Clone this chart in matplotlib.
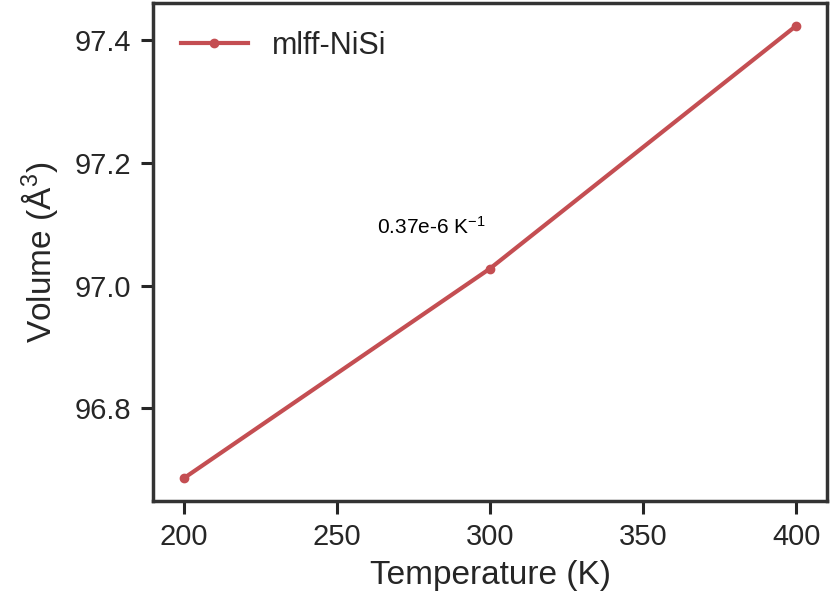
import matplotlib
matplotlib.use('Agg')
import matplotlib.pyplot as plt

temperature = [200, 300, 400]
volume = [96.686, 97.028, 97.424]
series_label = 'mlff-NiSi'
note = '0.37e-6 K$^{-1}$'

plt.rcParams['font.family'] = ['Liberation Sans', 'DejaVu Sans']
plt.rcParams['mathtext.fontset'] = 'custom'
plt.rcParams['mathtext.rm'] = 'Liberation Sans'
plt.rcParams['mathtext.it'] = 'Liberation Sans:italic'
plt.rcParams['mathtext.default'] = 'regular'

dark = '#262626'
fig, ax = plt.subplots(figsize=(8.36, 5.93), dpi=100)
fig.subplots_adjust(left=153/836, right=827/836, top=1-3/593, bottom=1-501/593)

ax.plot(temperature, volume, color='#C44E52', lw=3, marker='o', ms=6, label=series_label)
ax.text(263, 97.096, note, fontsize=15, ha='left', va='center', color='black')

ax.set_xticks([200, 250, 300, 350, 400])
ax.set_yticks([96.8, 97.0, 97.2, 97.4])
ax.set_xlabel('Temperature (K)', fontsize=24, color=dark, labelpad=6)
ax.set_ylabel('Volume (Å$^3$)', fontsize=24, color=dark, labelpad=10)
ax.tick_params(labelsize=21, colors=dark, width=2.2, length=9, pad=7)
for s in ax.spines.values():
    s.set_linewidth(2.5)
    s.set_color('#333333')

leg = ax.legend(loc='upper left', frameon=False, fontsize=22, handlelength=2.2)
for t in leg.get_texts():
    t.set_color(dark)

plt.savefig('out.png', dpi=100)
